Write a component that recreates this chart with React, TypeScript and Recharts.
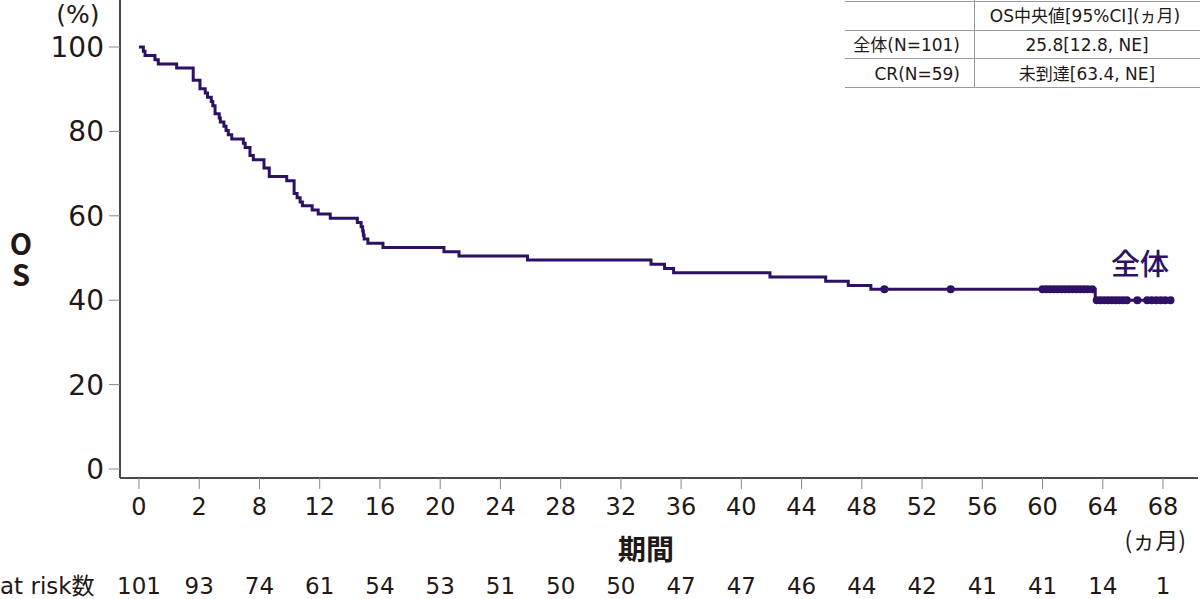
import React from 'react';
import { ComposedChart, Line, Scatter, XAxis, YAxis } from 'recharts';

// Kaplan–Meier steps (month, OS %)
const stepMonths = [
  0, 0.29, 0.4, 1.06, 1.28, 2.5, 3.6, 4.05, 4.4, 4.55, 4.8, 4.9, 5.05, 5.33, 5.4, 5.64, 5.78, 5.93, 6.16,
  6.93, 7.05, 7.37, 7.59, 8.3, 8.65, 9.81, 10.3, 10.5, 10.7, 10.85, 11.5, 11.9, 12.7, 14.5, 14.75, 14.85,
  14.9, 14.95, 15.2, 16.2, 20.25, 21.25, 25.8, 34.0, 34.9, 35.5, 41.9, 45.6, 47.1, 48.6, 63.5, 68.6,
];
const stepSurvival = [
  100, 99.0, 98.0, 97.0, 96.0, 95.0, 92.1, 90.1, 89.1, 88.1, 87.1, 86.1, 84.2, 83.2, 82.2, 81.2, 80.2, 79.2, 78.2,
  77.2, 76.2, 74.3, 73.3, 71.3, 69.3, 68.3, 65.3, 64.3, 63.3, 62.4, 61.4, 60.4, 59.4, 58.4, 57.4, 56.4,
  55.4, 54.5, 53.5, 52.5, 51.5, 50.5, 49.5, 48.5, 47.5, 46.5, 45.5, 44.5, 43.5, 42.6, 40.0, 40.0,
];

// censored observations
const censorMonths = [
  49.5, 53.9, 60.0, 60.25, 60.5, 60.75, 61.0, 61.25, 61.5, 61.75, 62.0, 62.25, 62.5, 62.75, 63.0, 63.3,
  63.6, 63.85, 64.1, 64.35, 64.6, 64.85, 65.1, 65.35, 65.6, 66.3, 66.95, 67.25, 67.55, 67.85, 68.15, 68.5,
];
const censorSurvival = [
  42.6, 42.6, 42.6, 42.6, 42.6, 42.6, 42.6, 42.6, 42.6, 42.6, 42.6, 42.6, 42.6, 42.6, 42.6, 42.6,
  40.0, 40.0, 40.0, 40.0, 40.0, 40.0, 40.0, 40.0, 40.0, 40.0, 40.0, 40.0, 40.0, 40.0, 40.0, 40.0,
];

const xTicks = [0, 4, 8, 12, 16, 20, 24, 28, 32, 36, 40, 44, 48, 52, 56, 60, 64, 68];
const xTickLabels = ['0', '2', '8', '12', '16', '20', '24', '28', '32', '36', '40', '44', '48', '52', '56', '60', '64', '68'];
const atRisk = ['101', '93', '74', '61', '54', '53', '51', '50', '50', '47', '47', '46', '44', '42', '41', '41', '14', '1'];
const yTicks = [0, 20, 40, 60, 80, 100];

const yAxisTitle = 'OS';
const tableHeader = 'OS中央値[95%CI](ヵ月)';
const tableRowLabels = ['全体(N=101)', 'CR(N=59)'];
const tableRowValues = ['25.8[12.8, NE]', '未到達[63.4, NE]'];

const stepData = stepMonths.map((t, i) => ({ t, s: stepSurvival[i] }));
const censorData = censorMonths.map((t, i) => ({ t, c: censorSurvival[i] }));

const INK = '#231815';
const PURPLE = '#2e1064';
const FONT = '"DejaVu Sans", "Noto Sans CJK JP", sans-serif';
const CJK = '"Noto Sans CJK JP", sans-serif';

const XTick = (props: any) => {
  const { x, y, payload } = props;
  const i = xTicks.indexOf(payload.value);
  return (
    <g>
      <text x={x} y={y + 26} textAnchor="middle" fontSize={24} fill={INK} fontFamily={FONT}>
        {xTickLabels[i]}
      </text>
      <text x={x} y={y + 105} textAnchor="middle" fontSize={23} fill={INK} fontFamily={FONT}>
        {atRisk[i]}
      </text>
    </g>
  );
};

const YTick = (props: any) => {
  const { x, y, payload } = props;
  return (
    <text x={x - 3} y={y + 10} textAnchor="end" fontSize={28} fill={INK} fontFamily={FONT}>
      {payload.value}
    </text>
  );
};

const Dot = (props: any) => {
  const { cx, cy } = props;
  return <circle cx={cx} cy={cy} r={4} fill={PURPLE} />;
};

export default function App() {
  return (
    <div style={{ position: 'absolute', left: 0, top: 0, width: 1200, height: 599, background: '#fff' }}>
      <ComposedChart width={1200} height={599} margin={{ top: 0, right: 2, bottom: 0, left: 0 }}>
        <XAxis
          type="number"
          dataKey="t"
          domain={[-1.2617, 70.324]}
          ticks={xTicks}
          interval={0}
          allowDataOverflow
          height={121}
          tickSize={11}
          tickMargin={0}
          axisLine={{ stroke: '#4d4846', strokeWidth: 2 }}
          tickLine={{ stroke: '#8a8583', strokeWidth: 1 }}
          tick={<XTick />}
        />
        <YAxis
          type="number"
          domain={[-2.133, 111.14]}
          ticks={yTicks}
          interval={0}
          allowDataOverflow
          width={120}
          tickSize={11}
          tickMargin={2}
          axisLine={{ stroke: '#4d4846', strokeWidth: 2 }}
          tickLine={{ stroke: '#8a8583', strokeWidth: 1 }}
          tick={<YTick />}
        />
        <Line
          data={stepData}
          dataKey="s"
          type="stepAfter"
          stroke={PURPLE}
          strokeWidth={3}
          dot={false}
          activeDot={false}
          isAnimationActive={false}
        />
        <Scatter data={censorData} dataKey="c" shape={<Dot />} isAnimationActive={false} />
      </ComposedChart>
      <svg
        width={1200}
        height={599}
        style={{ position: 'absolute', left: 0, top: 0, pointerEvents: 'none' }}
        fontFamily={FONT}
      >
        <text x={78} y={23} textAnchor="middle" fontSize={25} fill={INK}>(%)</text>
        <text
          x={21}
          y={229}
          fontSize={29}
          fontWeight="bold"
          fill={INK}
          fontFamily={CJK}
          letterSpacing={2}
          style={{ writingMode: 'vertical-rl', textOrientation: 'upright' } as any}
        >
          {yAxisTitle}
        </text>
        <text x={646} y={560} textAnchor="middle" fontSize={28} fontWeight="bold" fill={INK} fontFamily={CJK}>期間</text>
        <text x={1186} y={549} textAnchor="end" fontSize={23} fill={INK} fontFamily={CJK}>(ヵ月)</text>
        <text x={0} y={594} textAnchor="start" fontSize={23} fill={INK}>at risk数</text>
        <text x={1140} y={275} textAnchor="middle" fontSize={29} fontWeight={500} fill={PURPLE} fontFamily={CJK}>全体</text>

        <g stroke="#9a9a9a" strokeWidth={1}>
          <line x1={845} y1={1.5} x2={1200} y2={1.5} />
          <line x1={845} y1={30.5} x2={1200} y2={30.5} />
          <line x1={845} y1={58.5} x2={1200} y2={58.5} />
          <line x1={845} y1={87.5} x2={1200} y2={87.5} />
          <line x1={974.5} y1={0} x2={974.5} y2={88} />
        </g>
        <text x={1085} y={22} textAnchor="middle" fontSize={17} fill={INK}>{tableHeader}</text>
        <text x={960} y={51} textAnchor="end" fontSize={17} fill={INK}>{tableRowLabels[0]}</text>
        <text x={1087} y={51} textAnchor="middle" fontSize={17} fill={INK}>{tableRowValues[0]}</text>
        <text x={960} y={80} textAnchor="end" fontSize={17} fill={INK}>{tableRowLabels[1]}</text>
        <text x={1087} y={80} textAnchor="middle" fontSize={17} fill={INK}>{tableRowValues[1]}</text>
      </svg>
    </div>
  );
}
